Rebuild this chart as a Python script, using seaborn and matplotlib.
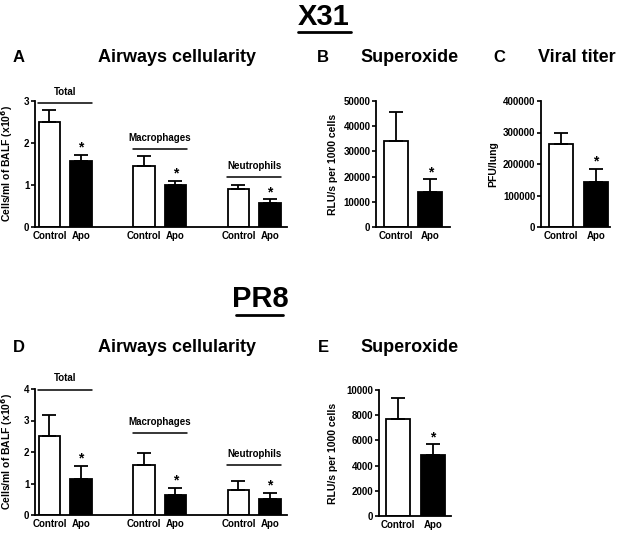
import numpy as np
import pandas as pd
import seaborn as sns
import matplotlib.pyplot as plt
from matplotlib.lines import Line2D

# --- data ---
treatments = ["Control", "Apo"]
cell_groups = ["Total", "Macrophages", "Neutrophils"]

# X31 airways cellularity (x10^6 cells/ml BALF)
x31_cell_control = [2.50, 1.45, 0.90]
x31_cell_control_err = [0.28, 0.25, 0.10]
x31_cell_apo = [1.58, 1.00, 0.57]
x31_cell_apo_err = [0.14, 0.10, 0.09]
x31_group_line = [2.95, 1.86, 1.19]

# X31 superoxide (RLU/s per 1000 cells)
x31_superoxide = [34000, 14000]
x31_superoxide_err = [11500, 5000]

# X31 viral titer (PFU/lung)
x31_titer = [262000, 143000]
x31_titer_err = [38000, 42000]

# PR8 airways cellularity
pr8_cell_control = [2.51, 1.59, 0.80]
pr8_cell_control_err = [0.67, 0.38, 0.29]
pr8_cell_apo = [1.14, 0.64, 0.50]
pr8_cell_apo_err = [0.43, 0.22, 0.21]
pr8_group_line = [3.98, 2.60, 1.59]

# PR8 superoxide
pr8_superoxide = [7700, 4850]
pr8_superoxide_err = [1700, 850]

W, H = 620, 534
FONT = "Liberation Sans"

sns.set_style("ticks")
plt.rcParams["font.family"] = [FONT, "DejaVu Sans"]
plt.rcParams["font.weight"] = "bold"
for k in ["text.color", "axes.labelcolor", "xtick.color", "ytick.color", "axes.edgecolor"]:
    plt.rcParams[k] = "black"

fig = plt.figure(figsize=(W / 100, H / 100), dpi=100)


def add_axes_px(left, top, right, bottom):
    return fig.add_axes([left / W, 1 - bottom / H, (right - left) / W, (bottom - top) / H])


def bar_panel(ax, pos, means, errs, labels, width, yticks, xlim, ylabel):
    df = pd.DataFrame({"pos": pos, "value": means,
                       "treatment": [labels[i % 2] for i in range(len(pos))]})
    sns.barplot(data=df, x="pos", y="value", hue="treatment", native_scale=True,
                dodge=False, palette={"Control": "white", "Apo": "black"},
                edgecolor="black", linewidth=1.3, width=width, errorbar=None,
                legend=False, ax=ax)
    ax.errorbar(pos, means, yerr=[np.zeros(len(means)), errs], fmt="none",
                ecolor="black", elinewidth=1.3, capsize=5, capthick=1.3,
                clip_on=False, zorder=1)
    # significance stars above the Apo bars
    for p, m, e, t in zip(pos, means, errs, df["treatment"]):
        if t == "Apo":
            ax.text(p, m + e, "*", ha="center", va="bottom", fontsize=10,
                    fontweight="bold")
    ax.set_xticks(pos, [t for t in df["treatment"]])
    ax.set_yticks(yticks)
    ax.set_ylim(yticks[0], yticks[-1])
    ax.set_xlim(*xlim)
    ax.set_xlabel("")
    ax.set_ylabel(ylabel, fontsize=7.5, fontweight="bold")
    ax.tick_params(axis="x", length=0, labelsize=7, pad=3)
    ax.tick_params(axis="y", length=3, width=1.2, labelsize=7, pad=1)
    for lab in ax.get_xticklabels() + ax.get_yticklabels():
        lab.set_fontweight("bold")
    sns.despine(ax=ax)
    for s in ["left", "bottom"]:
        ax.spines[s].set_linewidth(1.3)


def group_labels(ax, pos, line_y, yrange):
    for g, name in enumerate(cell_groups):
        x0, x1 = pos[2 * g] - 0.35, pos[2 * g + 1] + 0.35
        y = line_y[g]
        ax.plot([x0, x1], [y, y], color="black", lw=1.1, clip_on=False)
        ax.text((x0 + x1) / 2, y + yrange * 0.05, name, ha="center", va="bottom",
                fontsize=7, fontweight="bold", clip_on=False)


def interleave(a, b):
    out = []
    for u, v in zip(a, b):
        out += [u, v]
    return out


cell_pos = [0, 1, 3, 4, 6, 7]
pair_pos = [0, 1]

# --- X31 ---
axA = add_axes_px(35, 101, 287, 227)
bar_panel(axA, cell_pos, interleave(x31_cell_control, x31_cell_apo),
          interleave(x31_cell_control_err, x31_cell_apo_err), treatments, 0.67,
          [0, 1, 2, 3], (-0.46, 7.54), "Cells/ml of BALF (x10$^6$)")
group_labels(axA, cell_pos, x31_group_line, 3)
axA.yaxis.set_label_coords(-20 / 252, 0.5)

axB = add_axes_px(376, 101, 450, 227)
bar_panel(axB, pair_pos, x31_superoxide, x31_superoxide_err, treatments, 0.7,
          [0, 10000, 20000, 30000, 40000, 50000], (-0.58, 1.57), "RLU/s per 1000 cells")
axB.yaxis.set_label_coords(-38 / 74, 0.5)

axC = add_axes_px(541, 101, 610, 227)
bar_panel(axC, pair_pos, x31_titer, x31_titer_err, treatments, 0.69,
          [0, 100000, 200000, 300000, 400000], (-0.57, 1.4), "PFU/lung")
axC.yaxis.set_label_coords(-43 / 69, 0.5)

# --- PR8 ---
axD = add_axes_px(35, 389, 287, 515)
bar_panel(axD, cell_pos, interleave(pr8_cell_control, pr8_cell_apo),
          interleave(pr8_cell_control_err, pr8_cell_apo_err), treatments, 0.67,
          [0, 1, 2, 3, 4], (-0.46, 7.54), "Cells/ml of BALF (x10$^6$)")
group_labels(axD, cell_pos, pr8_group_line, 4)
axD.yaxis.set_label_coords(-20 / 252, 0.5)

axE = add_axes_px(379, 390, 451, 516)
bar_panel(axE, pair_pos, pr8_superoxide, pr8_superoxide_err, treatments, 0.7,
          [0, 2000, 4000, 6000, 8000, 10000], (-0.54, 1.52), "RLU/s per 1000 cells")
axE.yaxis.set_label_coords(-41 / 72, 0.5)


# --- headings ---
def ftext(x, y, s, size, **kw):
    fig.text(x / W, 1 - y / H, s, fontsize=size, fontweight="bold",
             ha=kw.pop("ha", "center"), va="center", **kw)


def underline(x0, x1, y):
    fig.add_artist(Line2D([x0 / W, x1 / W], [1 - y / H, 1 - y / H],
                          transform=fig.transFigure, color="black", lw=2))


ftext(324, 17, "X31", 21)
underline(298, 351, 32)
ftext(260, 299, "PR8", 21)
underline(236, 283, 315)

ftext(19, 58, "A", 12)
ftext(177, 58, "Airways cellularity", 13)
ftext(323, 58, "B", 12)
ftext(410, 58, "Superoxide", 13)
ftext(499, 58, "C", 12)
ftext(577, 58, "Viral titer", 13)
ftext(19, 347, "D", 12)
ftext(177, 347, "Airways cellularity", 13)
ftext(323, 347, "E", 12)
ftext(410, 347, "Superoxide", 13)

fig.savefig("out.png", dpi=100, facecolor="white")
